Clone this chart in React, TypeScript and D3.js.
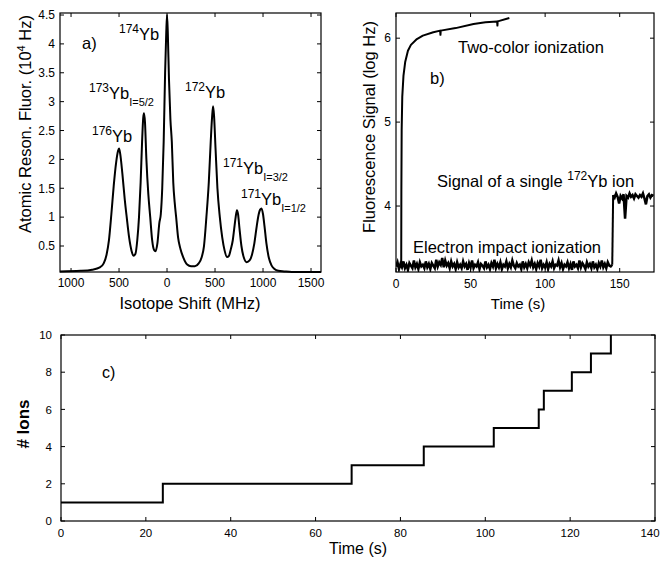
import React from 'react';
import * as d3 from 'd3';

const FONT = '"Liberation Sans", Arial, Helvetica, sans-serif';

// a) atomic resonance fluorescence vs isotope shift
const shiftMHz = [
  -1115, -900, -780, -700, -660, -630, -605, -580, -555, -530, -510, -500, -488, -465, -440, -420,
  -395, -370, -350, -330, -310, -292, -275, -260, -248, -240, -230, -215, -195, -175, -155, -135,
  -120, -100, -80, -65, -50, -35, -20, -8, 0, 8, 20, 35, 50, 65, 80, 95, 115, 140, 170, 210, 250,
  290, 330, 360, 385, 410, 435, 455, 470, 480, 490, 505, 525, 550, 575, 600, 625, 645, 665, 685,
  700, 715, 728, 740, 755, 775, 800, 830, 860, 885, 910, 935, 955, 970, 985, 1000, 1015, 1035,
  1060, 1090, 1120, 1160, 1220, 1300, 1604,
];
const fluor = [
  0.06, 0.07, 0.09, 0.13, 0.2, 0.35, 0.6, 1.05, 1.55, 1.95, 2.15, 2.19, 2.1, 1.75, 1.3, 1.0,
  0.65, 0.42, 0.33, 0.36, 0.6, 1.0, 1.6, 2.3, 2.72, 2.8, 2.65, 2.0, 1.4, 1.0, 0.6, 0.43,
  0.41, 0.55, 0.9, 1.05, 1.5, 2.3, 3.5, 4.2, 4.5, 4.2, 3.4, 2.7, 2.3, 1.6, 1.25, 1.0, 0.65, 0.45, 0.3, 0.18, 0.15,
  0.15, 0.2, 0.3, 0.5, 1.0, 1.6, 2.3, 2.75, 2.92, 2.75, 2.2, 1.5, 1.0, 0.65, 0.42, 0.31, 0.33, 0.45, 0.6,
  0.8, 1.0, 1.12, 1.05, 0.8, 0.5, 0.3, 0.22, 0.25, 0.35, 0.55, 0.85, 1.05, 1.13, 1.15, 1.05, 0.85, 0.55,
  0.3, 0.16, 0.1, 0.07, 0.06, 0.05, 0.05,
];
const shiftTicks = [-1000, -500, 0, 500, 1000, 1500];
const fluorTicks = [0.5, 1, 1.5, 2, 2.5, 3, 3.5, 4, 4.5];

// b) fluorescence signal vs time (log Hz)
const twoColorT = [3.5, 3.6, 3.8, 4.2, 5.0, 6.2, 8, 10, 14, 18, 25, 29.6, 29.8, 30.0, 40, 52, 60, 67.8, 68.0, 68.2, 76];
const twoColorV = [3.3, 4.2, 4.9, 5.3, 5.55, 5.72, 5.85, 5.92, 5.99, 6.03, 6.07, 6.09, 6.04, 6.09, 6.12, 6.17, 6.19, 6.2, 6.15, 6.2, 6.24];
// 1 s samples starting at t = 0
const impactV = [
  3.28, 3.33, 3.25, 3.31, 3.27, 3.34, 3.26, 3.30, 3.24, 3.32,
  3.29, 3.26, 3.35, 3.27, 3.31, 3.25, 3.33, 3.28, 3.30, 3.26,
  3.34, 3.27, 3.31, 3.25, 3.32, 3.29, 3.26, 3.36, 3.28, 3.33,
  3.30, 3.38, 3.27, 3.35, 3.29, 3.32, 3.26, 3.34, 3.28, 3.31,
  3.25, 3.33, 3.27, 3.30, 3.26, 3.34, 3.28, 3.31, 3.24, 3.32,
  3.27, 3.35, 3.26, 3.30, 3.28, 3.33, 3.25, 3.31, 3.29, 3.26,
  3.34, 3.27, 3.30, 3.25, 3.32, 3.28, 3.36, 3.26, 3.31, 3.27,
  3.33, 3.25, 3.30, 3.28, 3.34, 3.26, 3.31, 3.27, 3.35, 3.29,
  3.26, 3.32, 3.28, 3.30, 3.25, 3.34, 3.27, 3.31, 3.26, 3.33,
  3.29, 3.35, 3.27, 3.31, 3.25, 3.32, 3.28, 3.36, 3.26, 3.30,
  3.27, 3.33, 3.25, 3.31, 3.28, 3.34, 3.26, 3.30, 3.29, 3.35,
  3.27, 3.32, 3.25, 3.30, 3.28, 3.33, 3.26, 3.31, 3.24, 3.34,
  3.28, 3.30, 3.26, 3.35, 3.27, 3.32, 3.29, 3.25, 3.33, 3.28,
  3.31, 3.26, 3.34, 3.27, 3.30, 3.25, 3.32, 3.28, 3.35, 3.27,
  3.31, 3.26, 3.33, 3.29, 3.28, 3.30,
];
// 1 s samples starting at t = 145.6
const singleIonV = [
  4.13, 4.10, 4.15, 4.11, 4.03, 4.12, 4.09, 4.14, 3.85, 4.12,
  4.10, 4.15, 4.11, 4.13, 4.09, 4.14, 4.12, 4.10, 4.13, 4.11,
  4.15, 4.09, 4.02, 4.12, 4.14, 4.10, 4.13, 4.12,
];
const timeTicksB = [0, 50, 100, 150];
const logTicks = [4, 5, 6];

// c) number of trapped ions
const stepTimes = [0, 24, 68.5, 85.5, 102, 112.6, 113.8, 120.4, 124.9, 129.6];
const ionCounts = [1, 2, 3, 4, 5, 6, 7, 8, 9, 10];
const timeTicksC = [0, 20, 40, 60, 80, 100, 120, 140];
const ionTicks = [0, 2, 4, 6, 8, 10];

type Scale = d3.ScaleLinear<number, number>;

function Frame({ x, y, xTicks, yTicks, xFmt, yFmt, fs, xDy, yDx }: {
  x: Scale; y: Scale; xTicks: number[]; yTicks: number[];
  xFmt: (v: number) => string; yFmt: (v: number) => string;
  fs: number; xDy: number; yDx: number;
}) {
  const [x0, x1] = x.range();
  const [y0, y1] = y.range();
  const t = 4;
  return (
    <g>
      {xTicks.map((v) => {
        // keep the last label inside the page
        const lx = Math.min(x(v), 650);
        return (
          <g key={'x' + v}>
            <line x1={x(v)} x2={x(v)} y1={y0} y2={y0 - t} stroke="#000" />
            <line x1={x(v)} x2={x(v)} y1={y1} y2={y1 + t} stroke="#000" />
            <text x={lx} y={y0 + xDy} textAnchor="middle" fontSize={fs}>{xFmt(v)}</text>
          </g>
        );
      })}
      {yTicks.map((v) => (
        <g key={'y' + v}>
          <line x1={x0} x2={x0 + t} y1={y(v)} y2={y(v)} stroke="#000" />
          <line x1={x1} x2={x1 - t} y1={y(v)} y2={y(v)} stroke="#000" />
          <text x={x0 - yDx} y={y(v)} dy="0.36em" textAnchor="end" fontSize={fs}>{yFmt(v)}</text>
        </g>
      ))}
      <rect x={x0} y={y1} width={x1 - x0} height={y0 - y1} fill="none" stroke="#000" strokeWidth={1.2} />
    </g>
  );
}

function Isotope({ mass, sub, x, y }: { mass: string; sub?: string; x: number; y: number }) {
  return (
    <text x={x} y={y} fontSize={16.5}>
      <tspan fontSize={12} dy={-7}>{mass}</tspan>
      <tspan dy={7}>Yb</tspan>
      {sub && <tspan fontSize={11} dy={7}>{sub}</tspan>}
    </text>
  );
}

export default function App() {
  // panel a
  const xa = d3.scaleLinear().domain([-1115, 1604]).range([60, 321]);
  const ya = d3.scaleLinear().domain([0.05, 4.535]).range([272, 13]);
  const specLine = d3.line<number>().x((_, i) => xa(shiftMHz[i])).y((d) => ya(d)).curve(d3.curveMonotoneX);

  // panel b
  const xb = d3.scaleLinear().domain([0, 173]).range([396, 654]);
  const yb = d3.scaleLinear().domain([3.214, 6.3]).range([272, 13]);
  const tcLine = d3.line<number>().x((_, i) => xb(twoColorT[i])).y((d) => yb(d));
  const impactLine = d3.line<number>().x((_, i) => xb(i)).y((d) => yb(d));
  const ionLine = d3.line<number>().x((_, i) => xb(145.6 + i)).y((d) => yb(d));
  const stepUp = `M${xb(145)},${yb(impactV[impactV.length - 1])}L${xb(145.6)},${yb(singleIonV[0])}`;

  // panel c
  const xc = d3.scaleLinear().domain([0, 140]).range([61, 655]);
  const yc = d3.scaleLinear().domain([0, 10]).range([521, 335]);
  const stairs = d3.line<number>().x((_, i) => xc(stepTimes[i])).y((d) => yc(d)).curve(d3.curveStepAfter);

  const fmtA = (v: number) => String(Math.abs(v));
  const fmt = (v: number) => String(v);

  return (
    <svg width={662} height={564} style={{ position: 'absolute', left: 0, top: 0, background: '#fff' }}
      fontFamily={FONT}>
      <defs>
        <clipPath id="clipB"><rect x={396} y={13} width={258} height={259} /></clipPath>
      </defs>

      {/* a) */}
      <path d={specLine(fluor) || ''} fill="none" stroke="#000" strokeWidth={2} strokeLinejoin="round" />
      <Frame x={xa} y={ya} xTicks={shiftTicks} yTicks={fluorTicks} xFmt={fmtA} yFmt={fmt} fs={12} xDy={15} yDx={5} />
      <text x={82} y={49} fontSize={16.5}>a)</text>
      <Isotope mass="174" x={119} y={40} />
      <Isotope mass="173" sub="I=5/2" x={89} y={99} />
      <Isotope mass="176" x={92} y={142} />
      <Isotope mass="172" x={185} y={98} />
      <Isotope mass="171" sub="I=3/2" x={223} y={174} />
      <Isotope mass="171" sub="I=1/2" x={241} y={205} />
      <text transform="translate(31,124) rotate(-90)" textAnchor="middle" fontSize={16.5}>
        Atomic Reson. Fluor. (10<tspan fontSize={11} dy={-6}>4</tspan><tspan dy={6}> Hz)</tspan>
      </text>
      <text x={190} y={309} textAnchor="middle" fontSize={16.5}>Isotope Shift (MHz)</text>

      {/* b) */}
      <g clipPath="url(#clipB)" fill="none" stroke="#000">
        <path d={impactLine(impactV) || ''} strokeWidth={2.5} />
        <path d={stepUp} strokeWidth={2} />
        <path d={ionLine(singleIonV) || ''} strokeWidth={2.5} />
        <path d={tcLine(twoColorV) || ''} strokeWidth={2} strokeLinejoin="round" />
      </g>
      <Frame x={xb} y={yb} xTicks={timeTicksB} yTicks={logTicks} xFmt={fmt} yFmt={fmt} fs={12} xDy={16} yDx={5} />
      <text x={458} y={53} fontSize={16.5}>Two-color ionization</text>
      <text x={430} y={84} fontSize={16.5}>b)</text>
      <text x={437} y={187} fontSize={16.5}>
        Signal of a single <tspan fontSize={12} dy={-7}>172</tspan><tspan dy={7}>Yb ion</tspan>
      </text>
      <text x={413} y={253} fontSize={16.5}>Electron impact ionization</text>
      <text transform="translate(375,127) rotate(-90)" textAnchor="middle" fontSize={16.5}>
        Fluorescence Signal (log Hz)
      </text>
      <text x={518} y={309} textAnchor="middle" fontSize={15}>Time (s)</text>

      {/* c) */}
      <path d={stairs(ionCounts) || ''} fill="none" stroke="#000" strokeWidth={2} />
      <Frame x={xc} y={yc} xTicks={timeTicksC} yTicks={ionTicks} xFmt={fmt} yFmt={fmt} fs={11.5} xDy={16} yDx={9} />
      <text x={102} y={378} fontSize={16}>c)</text>
      <text transform="translate(29,424) rotate(-90)" textAnchor="middle" fontSize={17} fontWeight="bold">
        # Ions
      </text>
      <text x={358} y={554} textAnchor="middle" fontSize={16}>Time (s)</text>
    </svg>
  );
}
